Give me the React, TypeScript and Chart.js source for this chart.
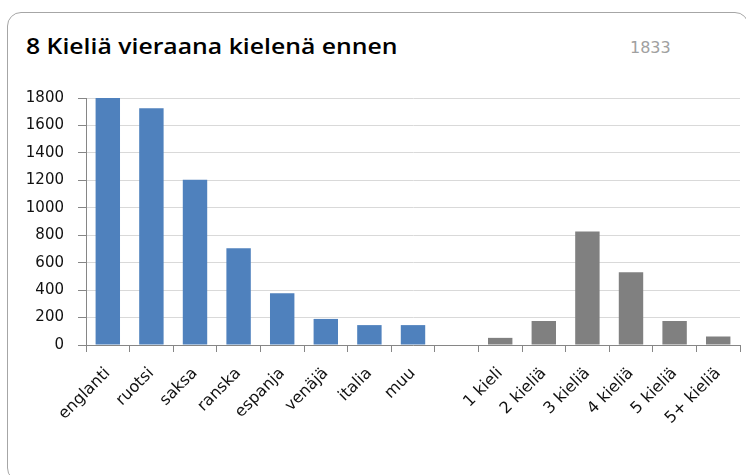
import React, { useEffect, useRef } from "react";
import { Chart, registerables } from "chart.js";
Chart.register(...registerables);

const categories = ["englanti", "ruotsi", "saksa", "ranska", "espanja", "venäjä", "italia", "muu", "", "1 kieli", "2 kieliä", "3 kieliä", "4 kieliä", "5 kieliä", "5+ kieliä"];
const values = [1800, 1725, 1205, 705, 378, 190, 145, 145, null, 52, 175, 828, 530, 175, 62];
const groups = ["kieli", "kieli", "kieli", "kieli", "kieli", "kieli", "kieli", "kieli", "", "maara", "maara", "maara", "maara", "maara", "maara"];
const yTicks = [0, 200, 400, 600, 800, 1000, 1200, 1400, 1600, 1800];
const title = "8 Kieliä vieraana kielenä ennen";
const subtitle = "1833";

const FONT = "'DejaVu Sans', sans-serif";
const TITLE_FONT = "'Open Sans', sans-serif";

export default function App() {
  const ref = useRef<HTMLCanvasElement | null>(null);
  useEffect(() => {
    if (!ref.current) return;
    const chart = new Chart(ref.current, {
      type: "bar",
      data: {
        labels: categories,
        datasets: [
          {
            data: values as any,
            backgroundColor: groups.map((g) => (g === "kieli" ? "#4F81BD" : "#808080")),
            borderWidth: 0,
            categoryPercentage: 1,
            barPercentage: 0.56,
          },
        ],
      },
      options: {
        animation: false,
        responsive: false,
        maintainAspectRatio: false,
        layout: { padding: { top: 98, right: 6, left: 0, bottom: 0 } },
        plugins: { legend: { display: false }, tooltip: { enabled: false }, title: { display: false } },
        scales: {
          x: {
            afterFit: (s: any) => { s.height = 130; },
            grid: { offset: true, drawOnChartArea: false, drawTicks: true, tickLength: 7, color: "#868686" },
            border: { color: "#868686", width: 1 },
            ticks: {
              autoSkip: false,
              maxRotation: 45,
              minRotation: 45,
              color: "#111",
              font: { family: FONT, size: 16 },
              padding: 12,
            },
          },
          y: {
            min: 0,
            max: 1800,
            afterFit: (s: any) => { s.width = 86; },
            afterBuildTicks: (s: any) => { s.ticks = yTicks.map((v) => ({ value: v })); },
            grid: { color: "#d9d9d9", tickLength: 8, tickColor: "#868686" },
            border: { color: "#868686", width: 1 },
            ticks: {
              color: "#111",
              font: { family: FONT, size: 15 },
              padding: 14,
              callback: (v: any) => String(v),
            },
          },
        },
      },
    });
    return () => chart.destroy();
  }, []);
  return (
    <div style={{ position: "fixed", left: 0, top: 0, width: 746, height: 475, background: "#fff", overflow: "hidden" }}>
      <div style={{ position: "absolute", left: 7, top: 12, width: 742, height: 470, border: "1px solid #a6a6a6", borderRadius: 14, boxSizing: "border-box" }} />
      <div style={{ position: "absolute", left: 26, top: 32, fontFamily: TITLE_FONT, fontWeight: 600, fontSize: 21, color: "#000", whiteSpace: "nowrap", lineHeight: "28px", transform: "scaleX(1.18)", transformOrigin: "left top" }}>{title}</div>
      <div style={{ position: "absolute", left: 630, top: 38, fontFamily: FONT, fontSize: 16, color: "#a0a0a0", whiteSpace: "nowrap", lineHeight: "20px" }}>{subtitle}</div>
      <canvas ref={ref} width={746} height={475} style={{ position: "absolute", left: 0, top: 0, width: 746, height: 475 }} />
    </div>
  );
}
